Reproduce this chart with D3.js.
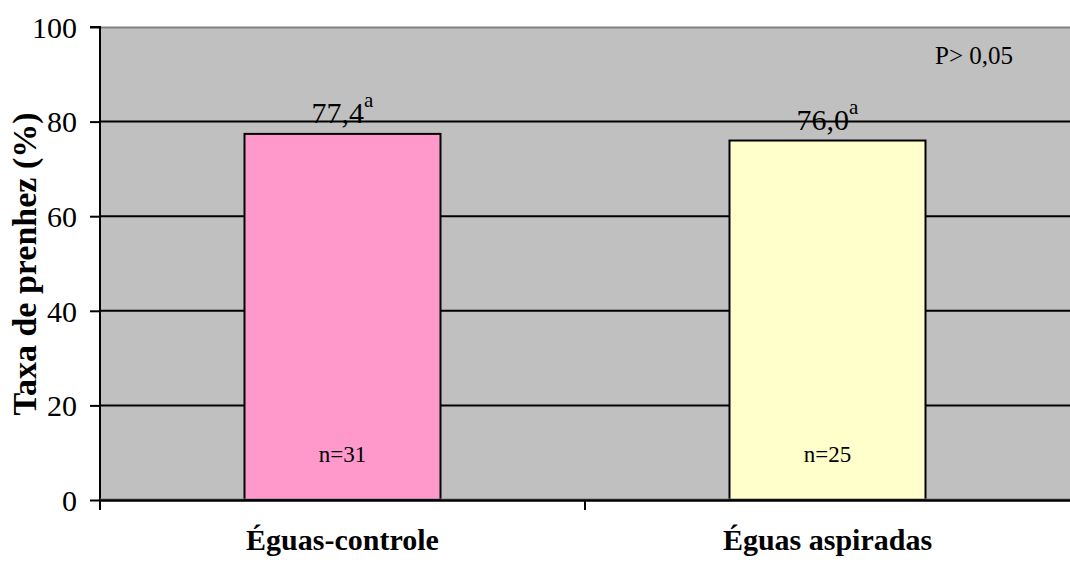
<!DOCTYPE html>
<html><head><meta charset="utf-8">
<script src="https://cdn.jsdelivr.net/npm/d3@7"></script>
<style>body{margin:0;background:#fff}svg{display:block}</style>
</head><body>
<svg id="c" width="1070" height="565"></svg>
<script>
const categories = ["Éguas-controle", "Éguas aspiradas"];
const values = [77.4, 76.0];
const valueLabels = ["77,4", "76,0"];
const superscripts = ["a", "a"];
const nLabels = ["n=31", "n=25"];
const colors = ["#FF99CC", "#FFFFCC"];
const yTicks = [0, 20, 40, 60, 80, 100];
const note = "P> 0,05";
const yTitle = "Taxa de prenhez (%)";

const svg = d3.select("#c");
const L = 100, R = 1080, T = 27, B = 500;
const font = "'Liberation Serif', 'Times New Roman', serif";

const x = d3.scaleBand().domain(categories).range([L, R - 10]).paddingInner(0).paddingOuter(0);
const y = d3.scaleLinear().domain([0, 100]).range([B, T]);

svg.append("rect").attr("x", L).attr("y", T).attr("width", 1070 - L).attr("height", B - T).attr("fill", "#C0C0C0");
svg.append("line").attr("x1", L).attr("x2", 1070).attr("y1", T + 0.5).attr("y2", T + 0.5).attr("stroke", "#808080").attr("stroke-width", 2);

// gridlines
svg.append("g").selectAll("line").data(yTicks.filter(d => d > 0 && d < 100)).join("line")
  .attr("x1", L).attr("x2", 1070).attr("y1", d => y(d)).attr("y2", d => y(d))
  .attr("stroke", "#000").attr("stroke-width", 2);

// bars
const bw = 196;
svg.append("g").selectAll("rect").data(values).join("rect")
  .attr("x", (d, i) => x(categories[i]) + x.bandwidth() / 2 - bw / 2)
  .attr("y", d => y(d)).attr("width", bw).attr("height", d => B - y(d))
  .attr("fill", (d, i) => colors[i]).attr("stroke", "#000").attr("stroke-width", 2);

// value labels
values.forEach((v, i) => {
  const cx = x(categories[i]) + x.bandwidth() / 2;
  const t = svg.append("text").attr("x", cx).attr("y", y(v) - 11).attr("text-anchor", "middle")
    .attr("font-family", font).attr("font-size", 30).attr("fill", "#000");
  t.append("tspan").text(valueLabels[i]);
  t.append("tspan").attr("font-size", 21).attr("dy", -16).text(superscripts[i]);
  svg.append("text").attr("x", cx).attr("y", 462).attr("text-anchor", "middle")
    .attr("font-family", font).attr("font-size", 23).attr("fill", "#000").text(nLabels[i]);
});

// axes
const yAxis = d3.axisLeft(y).tickValues(yTicks).tickSize(10).tickPadding(13);
const gy = svg.append("g").attr("transform", `translate(${L},0)`).call(yAxis);
gy.select(".domain").attr("stroke-width", 2).attr("d", `M-10,${T}H0V${B}`);
gy.selectAll(".tick line").attr("stroke-width", 2);
gy.selectAll("text").attr("font-family", font).attr("font-size", 30).attr("fill", "#000").attr("dy", "0.34em");

const gx = svg.append("g").attr("transform", `translate(0,${B})`);
gx.append("line").attr("x1", L).attr("x2", 1070).attr("y1", -1).attr("y2", -1).attr("stroke", "#808080").attr("stroke-width", 1);
gx.append("line").attr("x1", L).attr("x2", 1070).attr("y1", 0.5).attr("y2", 0.5).attr("stroke", "#000").attr("stroke-width", 2.5);
gx.selectAll(".tk").data([L, x(categories[1])]).join("line")
  .attr("x1", d => d).attr("x2", d => d).attr("y1", 0).attr("y2", 10).attr("stroke", "#000").attr("stroke-width", 2);
gx.selectAll("text").data(categories).join("text")
  .attr("x", d => x(d) + x.bandwidth() / 2).attr("y", 50).attr("text-anchor", "middle")
  .attr("font-family", font).attr("font-size", 30).attr("font-weight", "bold").text(d => d);

svg.append("text").attr("transform", "translate(36,264) rotate(-90)").attr("text-anchor", "middle")
  .attr("font-family", font).attr("font-size", 34).attr("font-weight", "bold").attr("fill", "#000").text(yTitle);

svg.append("text").attr("x", 935).attr("y", 64).attr("font-family", font).attr("font-size", 25).attr("fill", "#000").text(note);
</script>
</body></html>
